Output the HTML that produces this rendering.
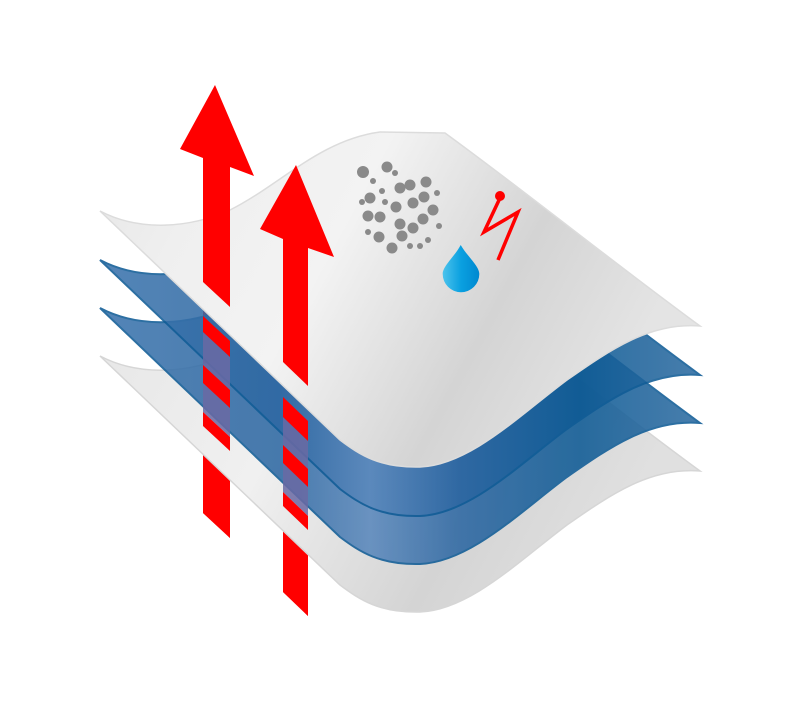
<!DOCTYPE html>
<html><head><meta charset="utf-8"><style>html,body{margin:0;padding:0;background:#fff;}svg{display:block}</style></head>
<body>
<svg width="800" height="702" viewBox="0 0 800 702" xmlns="http://www.w3.org/2000/svg">
<defs>
<linearGradient id="wt" x1="0" y1="0" x2="1" y2="0.3">
<stop offset="0" stop-color="#e6e6e6"/><stop offset="0.2" stop-color="#efefef"/><stop offset="0.45" stop-color="#f3f3f3"/><stop offset="0.75" stop-color="#d4d4d4"/><stop offset="1" stop-color="#e4e4e4"/></linearGradient>
<linearGradient id="wb" x1="0" y1="0" x2="1" y2="0.3">
<stop offset="0" stop-color="#e6e6e6"/><stop offset="0.4" stop-color="#f0f0f0"/><stop offset="0.75" stop-color="#d4d4d4"/><stop offset="1" stop-color="#e0e0e0"/></linearGradient>
<linearGradient id="bl" x1="0" y1="0" x2="1" y2="0">
<stop offset="0" stop-color="#3c74ad"/><stop offset="0.3" stop-color="#2f69a3"/><stop offset="0.45" stop-color="#5a88bc"/><stop offset="0.6" stop-color="#2d67a2"/><stop offset="0.8" stop-color="#0f5b95"/><stop offset="1" stop-color="#2e6ca2"/></linearGradient>
<linearGradient id="dr" x1="0" y1="0" x2="1" y2="0">
<stop offset="0" stop-color="#4cc3ec"/><stop offset="0.5" stop-color="#0aa0e0"/><stop offset="1" stop-color="#0088d0"/></linearGradient>
<path id="sheet" d="M100,211 C140,232 190,228 230,210 C280,185 320,140 380,132 L445,133 C530,195 610,260 700,326 C650,322 610,350 567,380 C520,415 470,465 420,467 C380,468 360,455 340,440 L100,211 Z"/>
</defs>
<polygon points="203,158 230,167 230,538 203,513" fill="#ff0000"/>
<polygon points="283,239 308,248 308,616 283,592" fill="#ff0000"/>
<use href="#sheet" transform="translate(0,145)" fill="url(#wb)" stroke="#d6d6d6" stroke-width="1.5"/>
<use href="#sheet" transform="translate(0,97)" fill="url(#bl)" opacity="0.88" stroke="#105c96" stroke-width="2"/>
<use href="#sheet" transform="translate(0,49)" fill="url(#bl)" opacity="0.88" stroke="#105c96" stroke-width="2"/>
<use href="#sheet" fill="url(#wt)" stroke="#dcdcdc" stroke-width="1.5"/>
<g fill="#6a6aa4" opacity="0.85">
<polygon points="203,332 230,357 230,390 203,365"/>
<polygon points="203,383 230,408 230,437 203,412"/>
<polygon points="283,417 308,441 308,469 283,445"/>
<polygon points="283,463 308,487 308,516 283,492"/>
</g>
<g fill="#ff0000">
<polygon points="215,85 254,176 230,167 230,307 203,282 203,158 180,149"/>
<polygon points="203,316 230,341 230,357 203,332"/>
<polygon points="203,365 230,390 230,408 203,383"/>
<polygon points="203,412 230,437 230,451 203,426"/>
<polygon points="203,462 230,487 230,538 203,513"/>
<polygon points="296,165 334,257 308,248 308,386 283,362 283,239 260,229"/>
<polygon points="283,397 308,421 308,441 283,417"/>
<polygon points="283,445 308,469 308,487 283,463"/>
<polygon points="283,492 308,516 308,530 283,506"/>
<polygon points="283,540 308,564 308,616 283,592"/>
</g>
<g fill="#8a8a8a">
<circle cx="363" cy="172" r="6"/><circle cx="387" cy="167" r="5.5"/><circle cx="395" cy="173" r="3"/><circle cx="373" cy="181" r="3"/>
<circle cx="410" cy="185" r="5.5"/><circle cx="400" cy="188" r="5.5"/><circle cx="426" cy="182" r="5.5"/><circle cx="382" cy="191" r="3"/>
<circle cx="437" cy="193" r="3"/><circle cx="370" cy="198" r="5.5"/><circle cx="362" cy="202" r="3"/><circle cx="385" cy="202" r="3"/>
<circle cx="396" cy="207" r="5.5"/><circle cx="413" cy="203" r="5.5"/><circle cx="424" cy="197" r="5.5"/><circle cx="433" cy="210" r="5.5"/>
<circle cx="368" cy="216" r="5.5"/><circle cx="380" cy="217" r="5.5"/><circle cx="400" cy="224" r="5.5"/><circle cx="423" cy="219" r="5.5"/>
<circle cx="413" cy="228" r="5.5"/><circle cx="439" cy="226" r="3"/><circle cx="368" cy="232" r="3"/><circle cx="379" cy="237" r="5.5"/>
<circle cx="402" cy="236" r="5.5"/><circle cx="428" cy="240" r="3"/><circle cx="392" cy="248" r="5.5"/><circle cx="410" cy="246" r="3"/><circle cx="420" cy="246" r="3"/>
</g>
<path d="M460.7,245 C455,256 442.7,266 442.7,274 A18.3,18.3 0 0 0 479.3,274 C479.3,266 467,256 460.7,245 Z" fill="url(#dr)"/>
<circle cx="500" cy="196" r="5" fill="#ff0000"/>
<path d="M500,198 L484,232 L518,212 L498,260" fill="none" stroke="#ff0000" stroke-width="3.5" stroke-linejoin="miter"/>
</svg>
</body></html>
